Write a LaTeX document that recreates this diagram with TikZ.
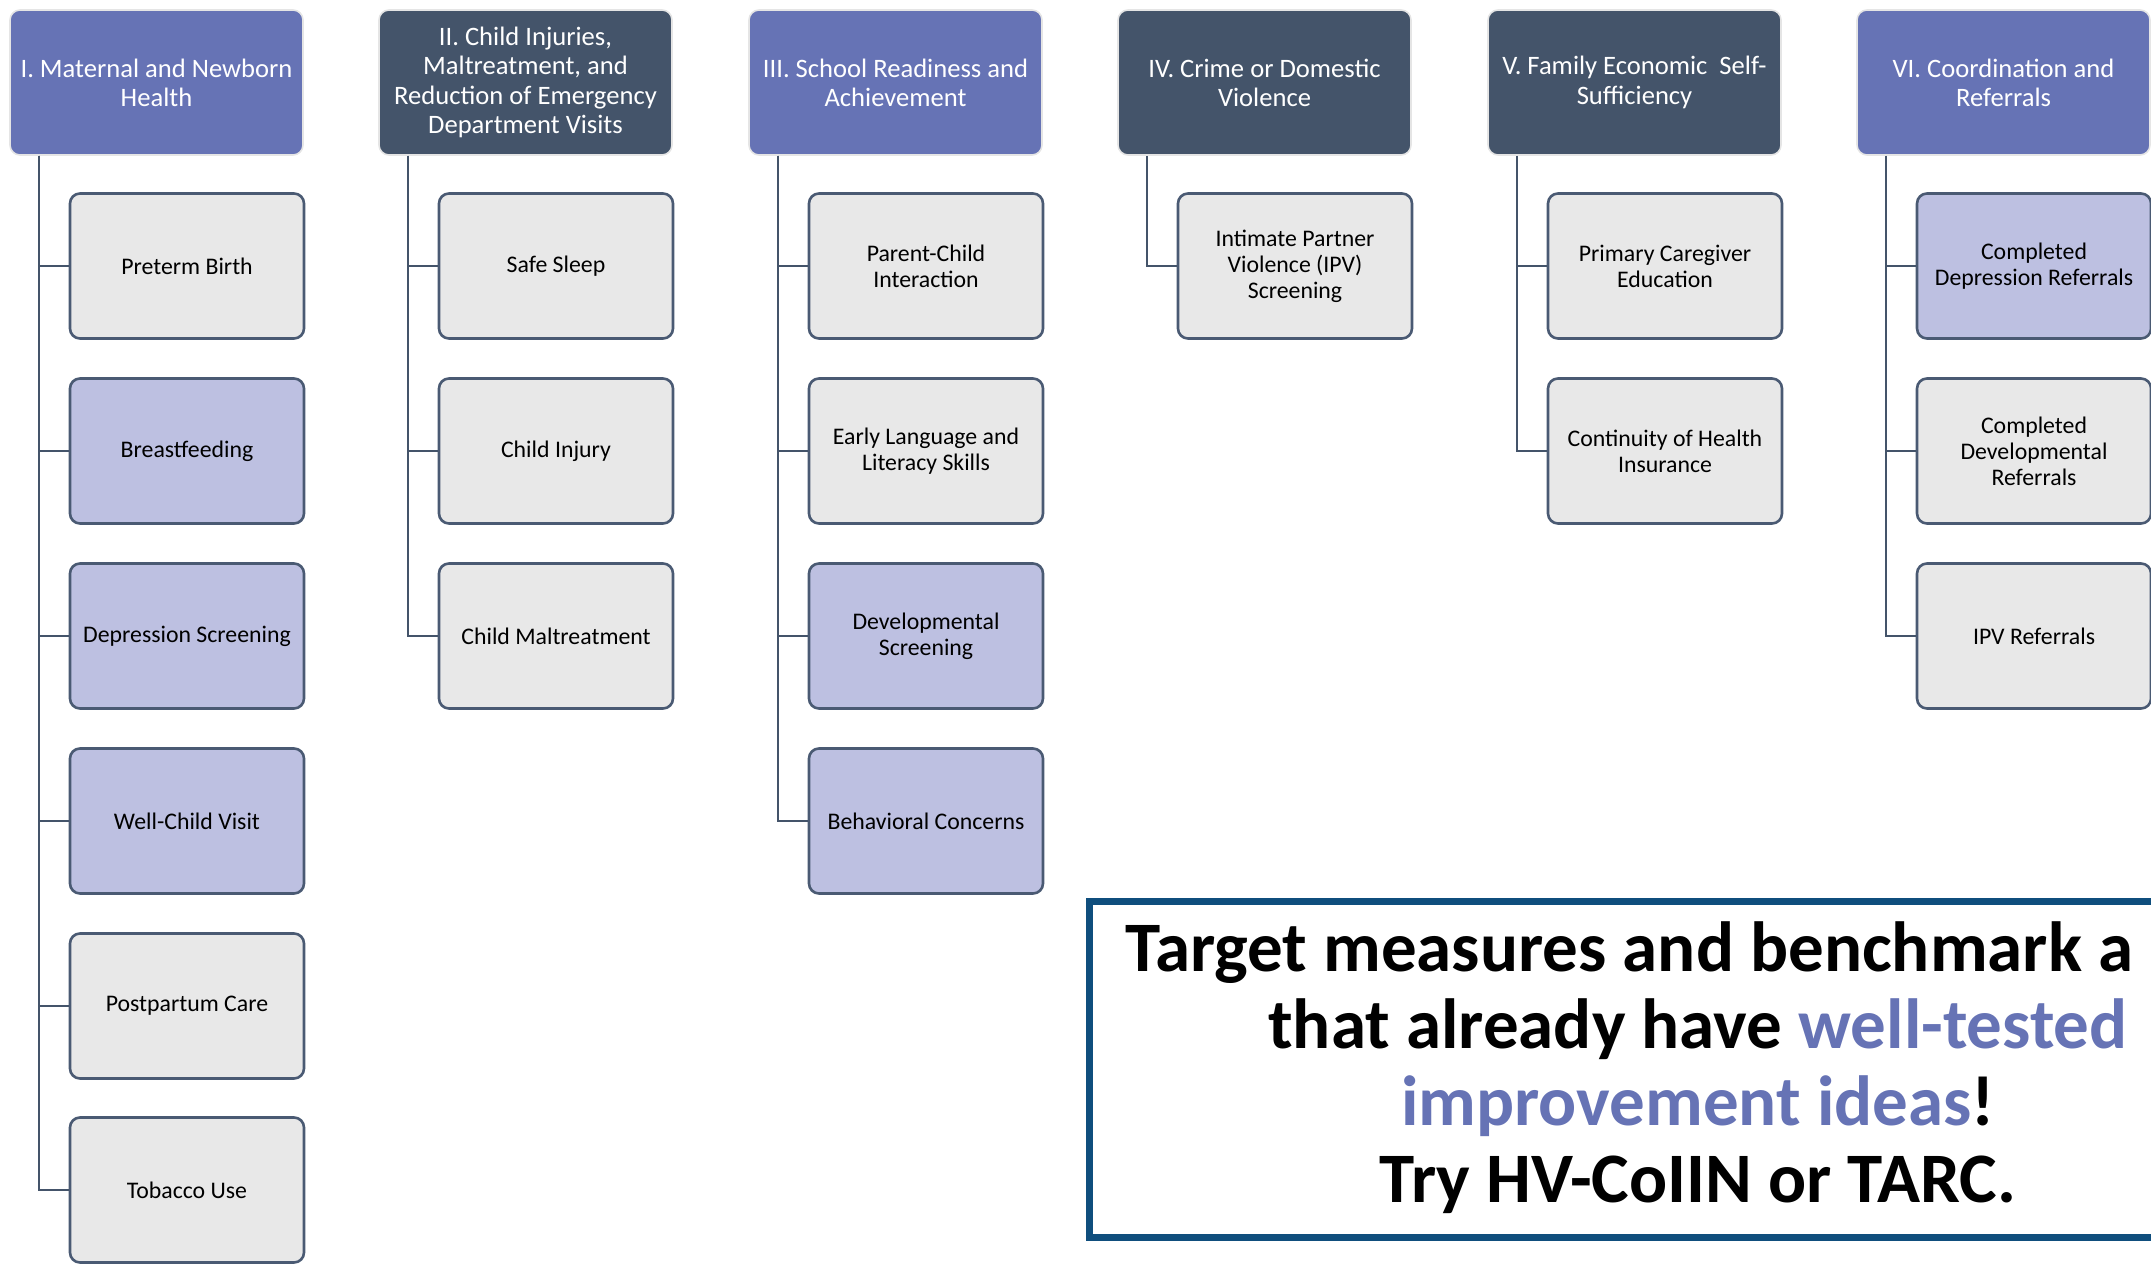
\documentclass[tikz,border=0pt]{standalone}
\usepackage{fontspec}
\setmainfont{Carlito}

\definecolor{headblue}{HTML}{6673B5}
\definecolor{headdark}{HTML}{44546A}
\definecolor{leafblue}{HTML}{BDC0E1}
\definecolor{leafgray}{HTML}{E8E8E8}
\definecolor{edgeline}{HTML}{4A5A73}
\definecolor{framebl}{HTML}{0F4E7D}

\tikzset{
	head/.style = {draw = gray!20, line width = 0.8pt, rounded corners = 5pt,
				   minimum width = 146.5pt, minimum height = 72.5pt, inner sep = 2pt,
				   align = center, text = white, font = \fontsize{13.3}{14.6}\selectfont},
	headA/.style = {head, fill = headblue},
	headB/.style = {head, fill = headdark},
	leaf/.style = {draw = edgeline, line width = 1.3pt, rounded corners = 5pt,
				   minimum width = 117pt, minimum height = 72.5pt, inner sep = 2pt,
				   align = center, font = \fontsize{11.9}{13}\selectfont},
	leafA/.style = {leaf, fill = leafblue},
	leafB/.style = {leaf, fill = leafgray},
	branch/.style = {draw = headdark, line width = 1.4pt},
	msgtext/.style = {inner sep = 0pt, font = \bfseries\fontsize{35.5}{38}\selectfont}
}

\begin{document}
\begin{tikzpicture}[x = 0.5pt, y = -0.5pt]

	\useasboundingbox (0,0) rectangle (2151,1263);

	% headers
	\draw (156.5,82.5) node[headA] (hI) {I. Maternal and Newborn\\Health};
	\draw (525.5,82.5) node[headB] (hII) {II. Child Injuries,\\Maltreatment, and\\Reduction of Emergency\\Department Visits};
	\draw (895.5,82.5) node[headA] (hIII) {III. School Readiness and\\Achievement};
	\draw (1264.5,82.5) node[headB] (hIV) {IV. Crime or Domestic\\Violence};
	\draw (1634.5,82.5) node[headB] (hV) {V. Family Economic\ \ Self-\\Sufficiency};
	\draw (2003.5,82.5) node[headA] (hVI) {VI. Coordination and\\Referrals};

	\coordinate (tI) at (hI.south -| 39,0);
	\coordinate (tII) at (hII.south -| 408,0);
	\coordinate (tIII) at (hIII.south -| 778,0);
	\coordinate (tIV) at (hIV.south -| 1147,0);
	\coordinate (tV) at (hV.south -| 1517,0);
	\coordinate (tVI) at (hVI.south -| 1886,0);

	% I
	\draw (187,266) node[leafB] (mat1) {Preterm Birth};
	\draw (187,451) node[leafA] (mat2) {Breastfeeding};
	\draw (187,636) node[leafA] (mat3) {Depression Screening};
	\draw (187,821) node[leafA] (mat4) {Well-Child Visit};
	\draw (187,1006) node[leafB] (mat5) {Postpartum Care};
	\draw (187,1190) node[leafB] (mat6) {Tobacco Use};

	% II
	\draw (556,266) node[leafB] (inj1) {Safe Sleep};
	\draw (556,451) node[leafB] (inj2) {Child Injury};
	\draw (556,636) node[leafB] (inj3) {Child Maltreatment};

	% III
	\draw (926,266) node[leafB] (sch1) {Parent-Child\\Interaction};
	\draw (926,451) node[leafB] (sch2) {Early Language and\\Literacy Skills};
	\draw (926,636) node[leafA] (sch3) {Developmental\\Screening};
	\draw (926,821) node[leafA] (sch4) {Behavioral Concerns};

	% IV
	\draw (1295,266) node[leafB] (cri1) {Intimate Partner\\Violence (IPV)\\Screening};

	% V
	\draw (1665,266) node[leafB] (eco1) {Primary Caregiver\\Education};
	\draw (1665,451) node[leafB] (eco2) {Continuity of Health\\Insurance};

	% VI
	\draw (2034,266) node[leafA] (ref1) {Completed\\Depression Referrals};
	\draw (2034,451) node[leafB] (ref2) {Completed\\Developmental\\Referrals};
	\draw (2034,636) node[leafB] (ref3) {IPV Referrals};

	\foreach \t/\c in {tI/mat1, tI/mat2, tI/mat3, tI/mat4, tI/mat5, tI/mat6,
					   tII/inj1, tII/inj2, tII/inj3,
					   tIII/sch1, tIII/sch2, tIII/sch3, tIII/sch4,
					   tIV/cri1, tV/eco1, tV/eco2,
					   tVI/ref1, tVI/ref2, tVI/ref3}
		\draw[branch] (\t) |- (\c.west);

	% message
	\draw[framebl, line width = 3.5pt] (1089.5,901.5) rectangle (2175,1237.5);
	\draw (1125,971) node[msgtext, anchor = base west] (msgA) {Target measures and benchmark a};
	\draw (1698,1048) node[msgtext, anchor = base] (msgB) {that already have \textcolor{headblue}{well-tested}};
	\draw (1698,1125) node[msgtext, anchor = base] (msgC) {\textcolor{headblue}{improvement ideas}!};
	\draw (1698,1202) node[msgtext, anchor = base] (msgD) {Try HV-CoIIN or TARC.};
\end{tikzpicture}
\end{document}
